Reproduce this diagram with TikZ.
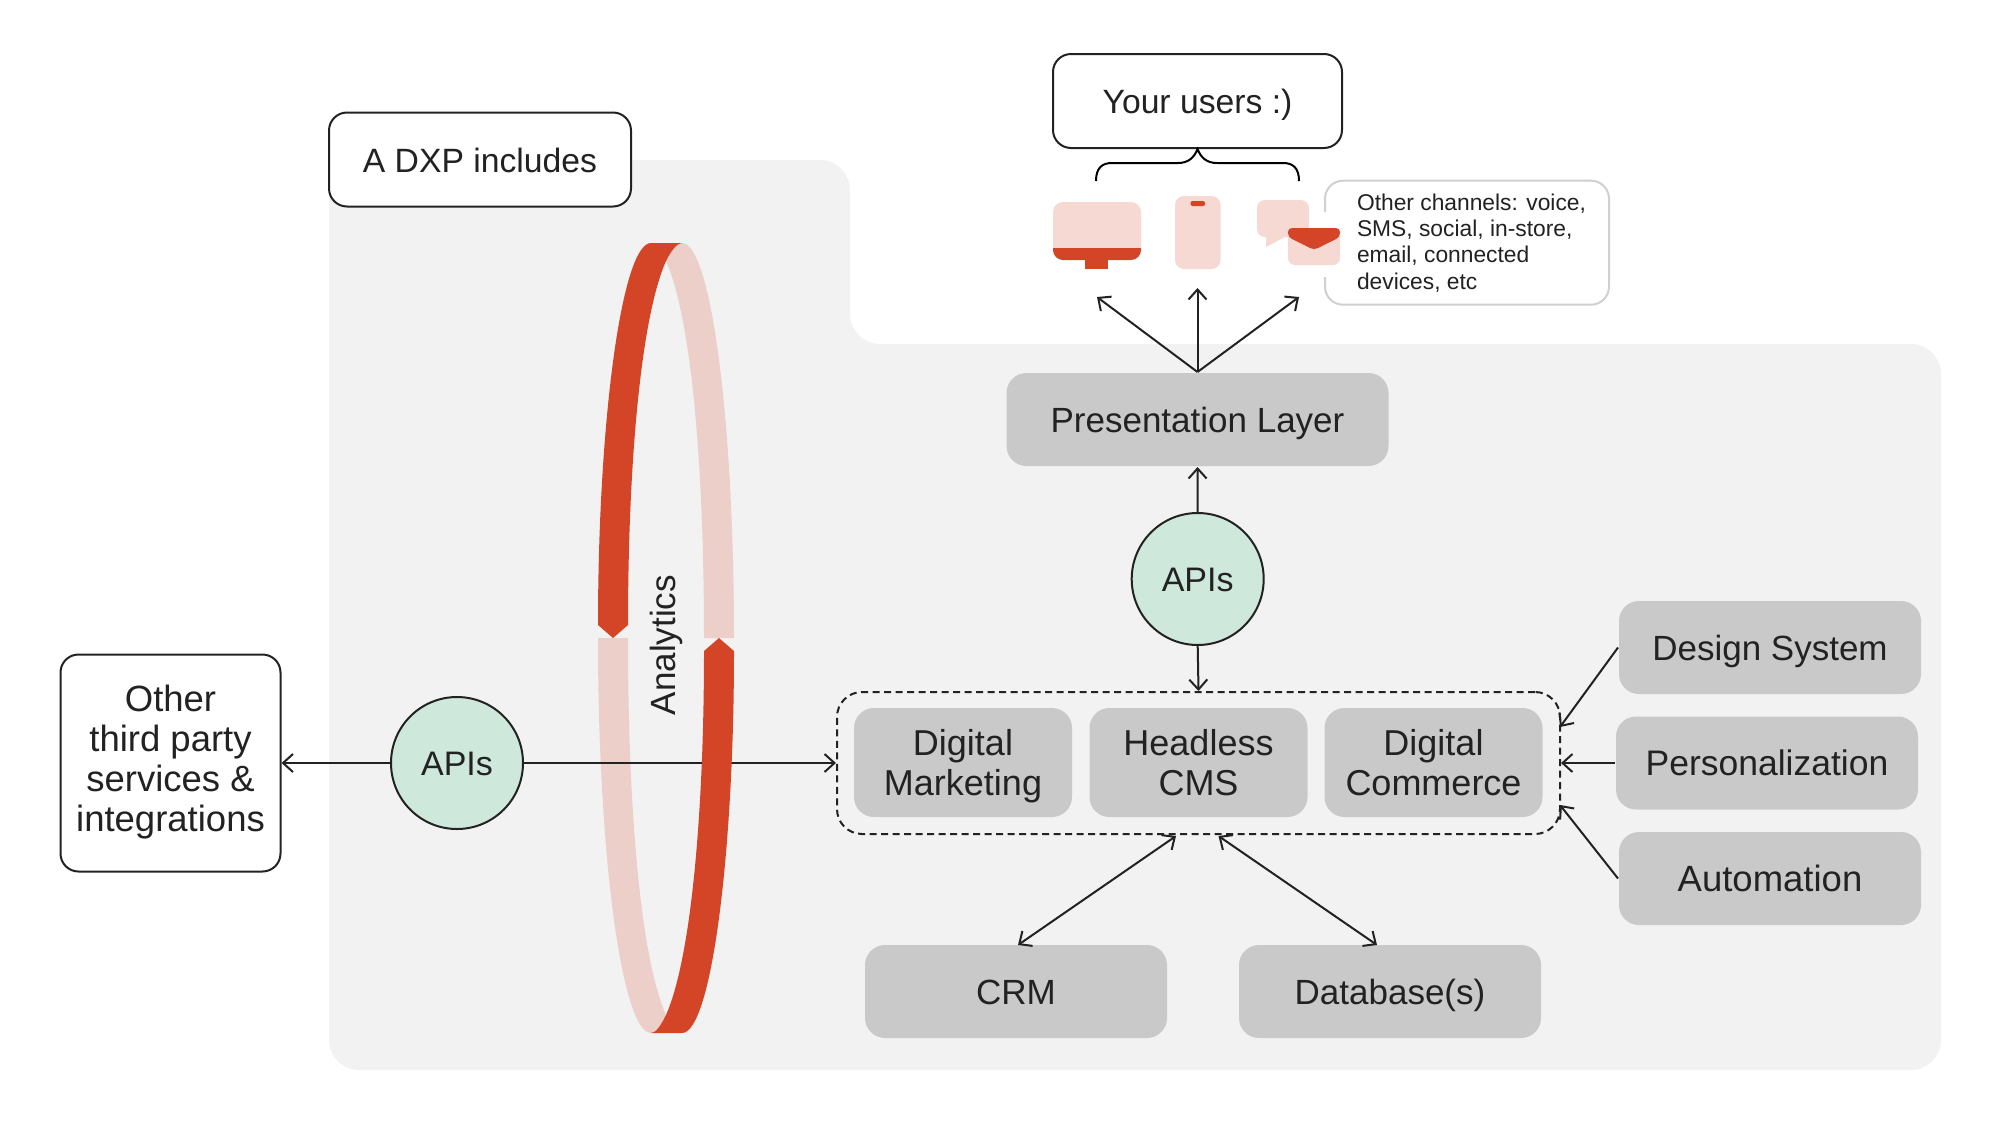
\documentclass[tikz,border=0pt]{standalone}
\usepackage{fontspec}
\setmainfont{Liberation Sans}
\usetikzlibrary{arrows.meta}
\definecolor{inkdark}{HTML}{222222}
\definecolor{panelgrey}{HTML}{F2F2F2}
\definecolor{boxgrey}{HTML}{C9C9C9}
\definecolor{apigreen}{HTML}{CFE8DC}
\definecolor{ringdark}{HTML}{D44426}
\definecolor{ringlight}{HTML}{EDCFC9}
\definecolor{iconlight}{HTML}{F6D9D3}
\definecolor{calloutline}{HTML}{D0D0D0}
\newcommand{\labelstrut}{\leavevmode\vrule height 34pt depth 9pt width 0pt\relax}
\newcommand{\tallstrut}{\leavevmode\vrule height 74pt depth 0pt width 0pt\relax}
\begin{document}
\begin{tikzpicture}[
        x=1pt,y=-1pt,
        line width=2pt,
        >={Straight Barb[length=10pt,width=18pt,line width=2pt]},
        every node/.style={
                text=inkdark,align=center,inner sep=0pt
            }
    ]
    \tikzset  {
        labeltext/.style = {font=\fontsize{35}{39.5}\selectfont, execute at begin node=\labelstrut, execute at end node=\labelstrut},
        greybox/.style = {labeltext, fill=boxgrey, rounded corners=20, minimum width=302, minimum height=93},
        smallbox/.style = {labeltext, font=\fontsize{36}{39.5}\selectfont, execute at begin node=\tallstrut, fill=boxgrey, rounded corners=20, minimum width=218, minimum height=109},
        outlinebox/.style = {labeltext, draw=inkdark, fill=white, rounded corners=18},
        apicircle/.style = {labeltext, font=\fontsize{34}{39.5}\selectfont, circle, draw=inkdark, fill=apigreen, minimum size=132},
        link/.style = {draw=inkdark, ->},
        twolink/.style = {draw=inkdark, <->},
    }
    \useasboundingbox (0,0) rectangle (2000,1125);

    \fill [panelgrey, rounded corners=30] (329,160) -- (850,160) -- (850,344) -- (1941,344) -- (1941,1070) -- (329,1070) -- cycle;

    \fill [ringlight] (682,243) .. controls (711,243) and (734,420) .. (734,638) -- (704,638) .. controls (704,470) and (692,320) .. (666,261) .. controls (671,251) and (677,243) .. (682,243) -- cycle;
    \fill [ringlight] (598,638) -- (628,638) .. controls (628,806) and (640,956) .. (666,1015) .. controls (661,1025) and (656,1033) .. (651,1033) .. controls (622,1033) and (598,856) .. (598,638) -- cycle;

    \node [outlinebox, font=\fontsize{33.7}{39.5}\selectfont, minimum width=302, minimum height=94] (dxp) at (480,159.5) {A DXP includes};
    \node [outlinebox, font=\fontsize{33.7}{39.5}\selectfont, minimum width=289, minimum height=94] (users) at (1197.5,101) {Your users :)};
    \node [outlinebox, font=\fontsize{36.5}{40}\selectfont, minimum width=220, minimum height=217] (thirdparty) at (170.5,763) {Other\\third party\\services \&\\integrations};
    \node [draw=calloutline, fill=white, rounded corners=18, minimum width=284, minimum height=124] (channels) at (1467,242.7) {};
    \fill [white] (1318,212) rectangle (1345,277);
    \node [anchor=west, align=left, font=\fontsize{22.8}{26.2}\selectfont] (channelstext) at (1356,243) {Other channels: voice,\\SMS, social, in-store,\\email, connected\\devices, etc};

    \node [greybox, minimum width=382] (presentation) at (1197.5,419.5) {Presentation Layer};
    \node [apicircle] (apistop) at (1197.7,579) {APIs};
    \node [apicircle] (apisleft) at (457,763) {APIs};
    \node [draw=inkdark, dash pattern=on 7pt off 4.5pt, rounded corners=25, minimum width=723, minimum height=142] (suite) at (1198.5,763) {};
    \node [smallbox] (marketing) at (963,762.5) {Digital\\Marketing};
    \node [smallbox] (cms) at (1198.5,762.5) {Headless\\CMS};
    \node [smallbox] (commerce) at (1433.5,762.5) {Digital\\Commerce};
    \node [greybox] (design) at (1770,647.5) {Design System};
    \node [greybox, font=\fontsize{35.5}{39.5}\selectfont] (personal) at (1767,763) {Personalization};
    \node [greybox, font=\fontsize{36.5}{39.5}\selectfont] (automation) at (1770,878.5) {Automation};
    \node [greybox] (crm) at (1016,991.5) {CRM};
    \node [greybox] (database) at (1390,991.5) {Database(s)};

    \coordinate (desktoptip) at (1097,297);
    \coordinate (phonetip) at (1197.5,288);
    \coordinate (messagetip) at (1299,297);
    \coordinate (crmtip) at (1176,836);
    \coordinate (crmfoot) at (1018,945);
    \coordinate (databasetip) at (1218.5,836);
    \coordinate (databasefoot) at (1377,945);
    \coordinate (designtip) at (1560,727);
    \coordinate (automationtip) at (1560,805);

    \draw (1096,181) .. controls (1096,168) and (1102,163) .. (1112,163) -- (1178,163) .. controls (1188,163) and (1194,158) .. (users.south) .. controls (1201,158) and (1207,163) .. (1217,163) -- (1283,163) .. controls (1293,163) and (1299,168) .. (1299,181);

    \fill [iconlight, rounded corners=10] (1053,202) rectangle (1141,258);
    \fill [ringdark] (1053,248) -- (1141,248) [rounded corners=10] -- (1141,260) -- (1053,260) [sharp corners] -- cycle;
    \fill [ringdark] (1085,258) rectangle (1108,269);
    \fill [iconlight, rounded corners=9] (1175,196) rectangle (1220.5,269);
    \fill [ringdark, rounded corners=2] (1190.5,201) rectangle (1205,206);
    \fill [iconlight, rounded corners=8] (1257,200) rectangle (1309,237);
    \fill [iconlight] (1266,235) -- (1285,237) -- (1266,247) -- cycle;
    \fill [iconlight, rounded corners=7] (1288,228) rectangle (1340,265);
    \fill [ringdark, rounded corners=4] (1288,237) -- (1288,228) -- (1340,228) -- (1340,237) -- (1314,250) -- cycle;

    \draw [link] (presentation.north) -- (desktoptip);
    \draw [link] (presentation.north) -- (phonetip);
    \draw [link] (presentation.north) -- (messagetip);
    \draw [link] (apistop.north) -- (presentation.south);
    \draw [link] (apistop.south) -- (suite.north);
    \draw [link] (apisleft.west) -- (thirdparty.east);
    \draw [link] (apisleft.east) -- (suite.west);
    \draw [link] (design.west) -- (designtip);
    \draw [link] (personal.west) -- (suite.east);
    \draw [link] (automation.west) -- (automationtip);
    \draw [twolink] (crmfoot) -- (crmtip);
    \draw [twolink] (databasefoot) -- (databasetip);

    \fill [ringdark] (651,243) .. controls (622,243) and (598,420) .. (598,625) -- (613,638) -- (628,625) .. controls (628,470) and (640,320) .. (666,261) .. controls (671,251) and (677,243) .. (682,243) -- cycle;
    \fill [ringdark] (682,1033) .. controls (711,1033) and (734,856) .. (734,651) -- (719,638) -- (704,651) .. controls (704,806) and (692,956) .. (666,1015) .. controls (661,1025) and (656,1033) .. (651,1033) -- cycle;

    \node [labeltext, rotate=90] (analytics) at (663,645) {Analytics};
\end{tikzpicture}
\end{document}
